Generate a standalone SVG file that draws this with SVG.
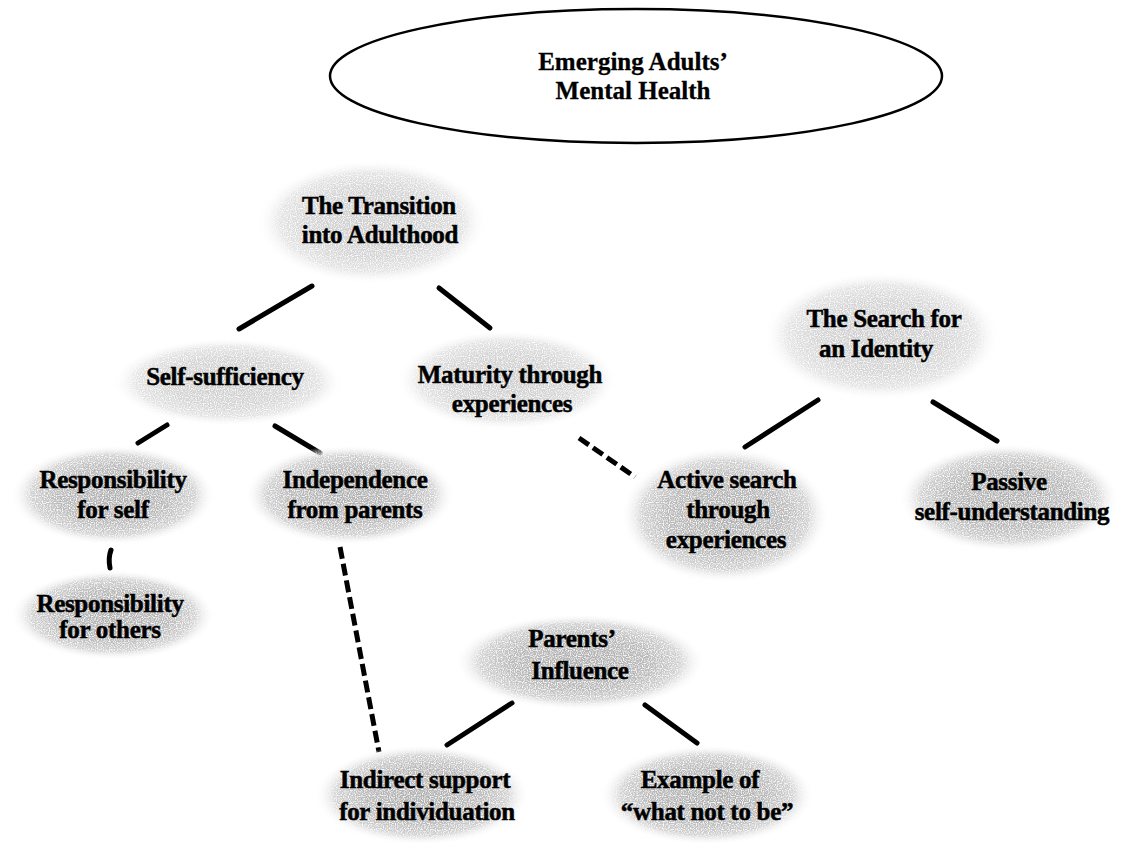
<svg xmlns="http://www.w3.org/2000/svg" width="1126" height="843" viewBox="0 0 1126 843">
<defs>
  <radialGradient id="halftone" cx="50%" cy="50%" r="50%">
    <stop offset="0" stop-color="#b0b0b0"/>
    <stop offset="0.55" stop-color="#bababa"/>
    <stop offset="0.8" stop-color="#d2d2d2"/>
    <stop offset="1" stop-color="#ffffff" stop-opacity="0"/>
  </radialGradient>
  <radialGradient id="halftoneLight" cx="50%" cy="50%" r="50%">
    <stop offset="0" stop-color="#cdcdcd"/>
    <stop offset="0.55" stop-color="#d5d5d5"/>
    <stop offset="0.8" stop-color="#e4e4e4"/>
    <stop offset="1" stop-color="#ffffff" stop-opacity="0"/>
  </radialGradient>
  <filter id="speckle" x="-5%" y="-5%" width="110%" height="110%">
    <feTurbulence type="fractalNoise" baseFrequency="0.85" numOctaves="1" seed="7" result="noise"/>
    <feColorMatrix in="noise" type="matrix" values="0 0 0 0 1  0 0 0 0 1  0 0 0 0 1  0 0 0 -3 1.7" result="holes"/>
    <feComposite in="holes" in2="SourceGraphic" operator="in" result="whiteDots"/>
    <feMerge><feMergeNode in="SourceGraphic"/><feMergeNode in="whiteDots"/></feMerge>
  </filter>
</defs>
<style>
  .blob { fill: url(#halftone); filter: url(#speckle); }
  .light { fill: url(#halftoneLight); }
  .lbl { font-family: "Liberation Serif", "Times New Roman", serif; font-weight: bold; font-size: 25px; fill: #000; stroke: #000; stroke-width: 0.5; text-anchor: middle; letter-spacing: -0.3px; }
  .top { font-size: 25px; letter-spacing: 0; stroke-width: 0.3; }
  .conn { stroke: #000; stroke-width: 5; stroke-linecap: round; fill: none; }
  .dash { stroke-width: 5; stroke-dasharray: 12 5; stroke-linecap: butt; }
</style>
<rect width="1126" height="843" fill="#ffffff"/>

<g id="connectors">
  <line class="conn" x1="312" y1="286" x2="239" y2="329"/>
  <line class="conn" x1="439" y1="288" x2="490" y2="328"/>
  <line class="conn" x1="167" y1="425" x2="138" y2="443"/>
  <line class="conn" x1="275" y1="426" x2="320" y2="453"/>
  <path class="conn" d="M111 550 Q108 558 110 568"/>
  <line class="conn" x1="818" y1="400" x2="745" y2="447"/>
  <line class="conn" x1="933" y1="402" x2="997" y2="441"/>
  <line class="conn" x1="512" y1="703" x2="447" y2="745"/>
  <line class="conn" x1="645" y1="705" x2="697" y2="743"/>
  <line class="conn dash" x1="340" y1="547" x2="379" y2="752"/>
  <line class="conn dash" x1="579" y1="438" x2="635" y2="477"/>
</g>

<g id="mental-health">
  <ellipse cx="636" cy="76" rx="306" ry="67" fill="#ffffff" stroke="#000" stroke-width="2.5"/>
  <text class="lbl top" x="633" y="70">Emerging Adults’</text>
  <text class="lbl top" x="633" y="99">Mental Health</text>
</g>

<g id="transition">
  <ellipse class="blob light" cx="372" cy="222" rx="115" ry="62"/>
  <text class="lbl" x="379" y="214">The Transition</text>
  <text class="lbl" x="380" y="243">into Adulthood</text>
</g>

<g id="self-sufficiency">
  <ellipse class="blob light" cx="228" cy="382" rx="115" ry="44"/>
  <text class="lbl" x="225" y="385">Self-sufficiency</text>
</g>

<g id="maturity">
  <ellipse class="blob light" cx="507" cy="380" rx="110" ry="50"/>
  <text class="lbl" x="510" y="383">Maturity through</text>
  <text class="lbl" x="512" y="412">experiences</text>
</g>

<g id="search">
  <ellipse class="blob light" cx="882" cy="336" rx="118" ry="64"/>
  <text class="lbl" x="884" y="327">The Search for</text>
  <text class="lbl" x="876" y="357">an Identity</text>
</g>

<g id="resp-self">
  <ellipse class="blob" cx="113" cy="495" rx="102" ry="50"/>
  <text class="lbl" x="113" y="488">Responsibility</text>
  <text class="lbl" x="113" y="518">for self</text>
</g>

<g id="independence">
  <ellipse class="blob" cx="350" cy="495" rx="105" ry="50"/>
  <text class="lbl" x="355" y="488">Independence</text>
  <text class="lbl" x="355" y="518">from parents</text>
</g>

<g id="active-search">
  <ellipse class="blob" cx="725" cy="515" rx="104" ry="68"/>
  <text class="lbl" x="727" y="488">Active search</text>
  <text class="lbl" x="728" y="518">through</text>
  <text class="lbl" x="726" y="548">experiences</text>
</g>

<g id="passive">
  <ellipse class="blob" cx="1009" cy="498" rx="110" ry="54"/>
  <text class="lbl" x="1009" y="490">Passive</text>
  <text class="lbl" x="1012" y="520">self-understanding</text>
</g>

<g id="resp-others">
  <ellipse class="blob" cx="113" cy="615" rx="102" ry="45"/>
  <text class="lbl" x="110" y="612">Responsibility</text>
  <text class="lbl" x="110" y="638">for others</text>
</g>

<g id="parents">
  <ellipse class="blob" cx="580" cy="662" rx="125" ry="48"/>
  <text class="lbl" x="572" y="647">Parents’</text>
  <text class="lbl" x="580" y="679">Influence</text>
</g>

<g id="indirect">
  <ellipse class="blob" cx="422" cy="795" rx="107" ry="50"/>
  <text class="lbl" x="425" y="788">Indirect support</text>
  <text class="lbl" x="427" y="820">for individuation</text>
</g>

<g id="example">
  <ellipse class="blob" cx="707" cy="795" rx="107" ry="50"/>
  <text class="lbl" x="700" y="788">Example of</text>
  <text class="lbl" x="707" y="820">“what not to be”</text>
</g>
</svg>
